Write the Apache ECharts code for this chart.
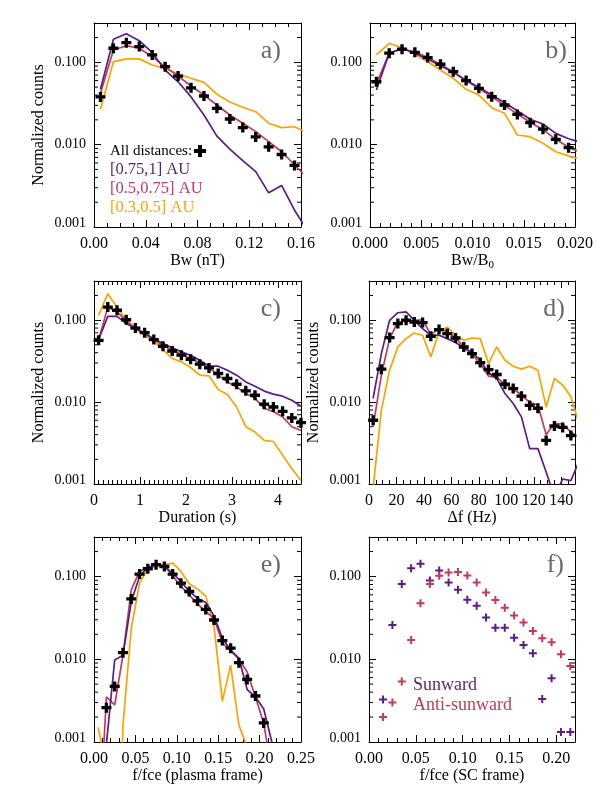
<!DOCTYPE html>
<html><head><meta charset="utf-8">
<script src="https://cdn.jsdelivr.net/npm/echarts@6/dist/echarts.min.js"></script>
<style>html,body{margin:0;padding:0;background:#fff}#c{width:606px;height:807px}</style>
</head><body><div id="c"></div>
<script>
// ---------- data ----------
// a) Bw (nT)
const aBins  = [0.005,0.015,0.025,0.035,0.045,0.055,0.065,0.075,0.085,0.095,0.105,0.115,0.125,0.135,0.145,0.155];
const aLineX = [0.005,0.015,0.025,0.035,0.045,0.055,0.065,0.075,0.085,0.095,0.105,0.115,0.125,0.135,0.145,0.155,0.165];
const aAll    = [0.038,0.148,0.173,0.155,0.123,0.0885,0.068,0.049,0.039,0.0276,0.0205,0.0161,0.0124,0.0094,0.0076,0.0056];
const aPurple = [0.047,0.19,0.222,0.183,0.131,0.0806,0.058,0.038,0.0229,0.0127,0.0088,0.0064,0.0047,0.0026,0.0032,0.0016,0.0009];
const aRed    = [0.042,0.141,0.159,0.148,0.117,0.088,0.068,0.0515,0.040,0.0303,0.0229,0.0182,0.0144,0.0109,0.0082,0.0057,0.0039];
const aOrange = [0.0269,0.1017,0.110,0.110,0.0927,0.0845,0.072,0.064,0.057,0.041,0.033,0.0284,0.0251,0.0182,0.0161,0.0165,0.0138];
// b) Bw/B0
const bBins  = [0.000625,0.001875,0.003125,0.004375,0.005625,0.006875,0.008125,0.009375,0.010625,0.011875,0.013125,0.014375,0.015625,0.016875,0.018125,0.019375];
const bLineX = [0.000625,0.001875,0.003125,0.004375,0.005625,0.006875,0.008125,0.009375,0.010625,0.011875,0.013125,0.014375,0.015625,0.016875,0.018125,0.019375,0.020625];
const bAll    = [0.058,0.129,0.144,0.132,0.114,0.0946,0.077,0.060,0.0483,0.0382,0.0303,0.0233,0.0185,0.0154,0.0116,0.0092];
const bPurple = [0.0461,0.129,0.148,0.129,0.110,0.091,0.0755,0.060,0.0497,0.040,0.0323,0.0258,0.0203,0.0178,0.0137,0.0118,0.0106];
const bRed    = [0.055,0.129,0.145,0.133,0.115,0.094,0.077,0.060,0.048,0.038,0.030,0.0235,0.0187,0.0152,0.0116,0.0093,0.0080];
const bOrange = [0.123,0.170,0.150,0.125,0.1017,0.0806,0.064,0.047,0.040,0.0281,0.024,0.0131,0.0125,0.0104,0.0082,0.0073,0.0066];
// c) Duration (s)
const cBins = [0.1,0.3,0.5,0.7,0.9,1.1,1.3,1.5,1.7,1.9,2.1,2.3,2.5,2.7,2.9,3.1,3.3,3.5,3.7,3.9,4.1,4.3,4.5];
const cAll    = [0.0567,0.144,0.132,0.101,0.080,0.0703,0.0578,0.048,0.042,0.0373,0.0333,0.029,0.0261,0.0223,0.0194,0.0165,0.0137,0.0121,0.0094,0.0087,0.0077,0.0064,0.0056];
const cPurple = [0.058,0.111,0.111,0.0906,0.0787,0.0684,0.0594,0.0517,0.0458,0.041,0.0373,0.0324,0.0274,0.0274,0.0245,0.0213,0.0176,0.0156,0.0136,0.0125,0.0118,0.0105,0.0089];
const cRed    = [0.057,0.144,0.126,0.098,0.079,0.070,0.058,0.049,0.043,0.038,0.034,0.030,0.0263,0.0213,0.0176,0.0153,0.0127,0.0111,0.0084,0.0076,0.0066,0.0050,0.0045];
const cOrange = [0.114,0.210,0.144,0.101,0.079,0.065,0.0552,0.0437,0.034,0.0309,0.0264,0.0213,0.0209,0.0142,0.0124,0.0087,0.0050,0.0043,0.0034,0.0033,0.00225,0.00155,0.0011];
// d) delta f (Hz)
const dBins  = [3,9,15,21,27,33,39,45,51,57,63,69,75,81,87,93,99,105,111,117,123,129,135,141,147];
const dLineX = [3,9,15,21,27,33,39,45,51,57,63,69,75,81,87,93,99,105,111,117,123,129,135,141,147,153];
const dAll    = [0.0060,0.0252,0.0612,0.0906,0.0995,0.0948,0.0932,0.0635,0.0766,0.0684,0.0605,0.047,0.039,0.0303,0.0249,0.0217,0.0165,0.0146,0.0118,0.0091,0.0084,0.0034,0.0051,0.0049,0.0039];
const dPurple = [0.0111,0.039,0.0995,0.123,0.126,0.0995,0.0787,0.0653,0.0653,0.0594,0.0532,0.0463,0.0402,0.0324,0.0227,0.0194,0.0127,0.0096,0.0066,0.0027,0.0027,0.0014,0.0007,0.00115,0.0011,0.0019];
const dRed    = [0.0050,0.0213,0.0594,0.0948,0.097,0.0995,0.101,0.0666,0.0787,0.072,0.0612,0.047,0.038,0.0295,0.0207,0.020,0.0165,0.0146,0.0121,0.0099,0.0092,0.0040,0.0055,0.0054,0.0043,0.0037];
const dOrange = [0.0009,0.0079,0.0245,0.047,0.0594,0.0697,0.0653,0.0356,0.0717,0.0824,0.0653,0.0567,0.0605,0.0594,0.0295,0.047,0.0324,0.0274,0.0252,0.0274,0.0245,0.0087,0.0194,0.0161,0.0116,0.0054];
// e) f/fce (plasma frame)
const eBins  = [0.015,0.025,0.035,0.045,0.055,0.065,0.075,0.085,0.095,0.105,0.115,0.125,0.135,0.145,0.155,0.165,0.175,0.185,0.195,0.205];
const eLineX = [0.005,0.015,0.025,0.035,0.045,0.055,0.065,0.075,0.085,0.095,0.105,0.115,0.125,0.135,0.145,0.155,0.165,0.175,0.185,0.195,0.205,0.215];
const eAll    = [0.0026,0.0047,0.012,0.0536,0.107,0.124,0.139,0.132,0.107,0.083,0.0658,0.0507,0.040,0.0298,0.0168,0.0136,0.0091,0.0057,0.0036,0.0017];
const ePurple = [0.000001,0.00095,0.0098,0.0112,0.0498,0.1,0.128,0.139,0.132,0.110,0.087,0.066,0.0547,0.0484,0.0334,0.0179,0.0129,0.0103,0.0043,0.0035,0.0025,0.00098];
const eRed    = [0.00005,0.0035,0.0028,0.0112,0.069,0.115,0.128,0.139,0.135,0.102,0.0757,0.060,0.0467,0.0377,0.0313,0.0158,0.0127,0.0100,0.0070,0.0035,0.00167,0.00043];
const eOrange = [0.0015,0.0005,0.000001,0.0016,0.0237,0.083,0.123,0.132,0.139,0.145,0.115,0.0816,0.0703,0.0583,0.0248,0.0031,0.0085,0.0016,0.00087,0.00001,0.00001,0.00001];
// f) f/fce (SC frame)
const fBins = [0.015,0.025,0.035,0.045,0.055,0.065,0.075,0.085,0.095,0.105,0.115,0.125,0.135,0.145,0.155,0.165,0.175,0.185,0.195,0.205,0.215];
const fSunward     = [0.00327,0.026,0.081,0.126,0.143,0.0895,0.118,0.0846,0.069,0.0522,0.0442,0.0319,0.0241,0.0241,0.0182,0.0149,0.0118,0.0033,0.0059,0.00132,0.00132];
const fAntiSunward = [0.0020,0.0030,0.0054,0.0171,0.0476,0.081,0.102,0.112,0.113,0.103,0.0846,0.064,0.052,0.042,0.0337,0.0277,0.022,0.0179,0.016,0.0115,0.0083];
// log-axis minor tick values
const yMinor = [0.002,0.003,0.004,0.005,0.006,0.007,0.008,0.009,0.02,0.03,0.04,0.05,0.06,0.07,0.08,0.09,0.2];
const legendA = ['All distances:','[0.75,1] AU','[0.5,0.75] AU','[0.3,0.5] AU'];
const legendF = ['Sunward','Anti-sunward'];

// ---------- styling ----------
const P='#5b1b8c', R='#c4395c', O='#ffa200', K='#000';
const FF='"Liberation Serif","Times New Roman",serif';
const PLUS='path://M4,0H8V4H12V8H8V12H4V8H0V4H4Z';
const PLUS_S='path://M3,0H5V3H8V5H5V8H3V5H0V3H3Z';

function fmtX(dec, itv){return v=>{const r=v/itv; if(Math.abs(r-Math.round(r))>1e-6) return ''; return v.toFixed(dec);};}
function fmtY(v){const l=Math.log10(v); if(Math.abs(l-Math.round(l))>1e-6) return ''; const s=v.toFixed(3); return s==='0.001'?'{lo|0.001}':s;}
function pts(x,y){return x.map((v,i)=>[v,y[i]]);}

const panels=[
 {g:[94,23,207,204], xmin:0,xmax:0.16,xint:0.04,minor:4,dec:2, xname:'Bw (nT)', yname:true, lab:'a)', labX:281,
  lines:[[aLineX,aOrange,O],[aLineX,aRed,R],[aLineX,aPurple,P]], marks:[[aBins,aAll,K,PLUS,10]]},
 {g:[370,23,205,204], xmin:0,xmax:0.02,xint:0.005,minor:5,dec:3, xname:'{n|Bw/B}{s|0}', yname:false, lab:'b)', labX:567,
  lines:[[bLineX,bOrange,O],[bLineX,bRed,R],[bLineX,bPurple,P]], marks:[[bBins,bAll,K,PLUS,10]]},
 {g:[94,281,207,203], xmin:0,xmax:4.5,xint:1,minor:10,dec:0, xname:'Duration (s)', yname:true, lab:'c)', labX:281,
  lines:[[cBins,cOrange,O],[cBins,cRed,R],[cBins,cPurple,P]], marks:[[cBins,cAll,K,PLUS,10]]},
 {g:[369,281,206,203], xmin:0,xmax:150,xint:20,minor:4,dec:0, xname:'\u0394f (Hz)', yname:true, lab:'d)', labX:565,
  lines:[[dLineX,dOrange,O],[dLineX,dRed,R],[dLineX,dPurple,P]], marks:[[dBins,dAll,K,PLUS,10]]},
 {g:[94,537,207,205], xmin:0,xmax:0.25,xint:0.05,minor:5,dec:2, xname:'f/fce (plasma frame)', yname:false, lab:'e)', labX:281,
  lines:[[eLineX,eOrange,O],[eLineX,eRed,R],[eLineX,ePurple,P]], marks:[[eBins,eAll,K,PLUS,10]]},
 {g:[369,537,206,205], xmin:0,xmax:0.22,xint:0.05,minor:5,dec:2, xname:'f/fce (SC frame)', yname:false, lab:'f)', labX:564,
  lines:[], marks:[[fBins,fSunward,P,PLUS_S,8],[fBins,fAntiSunward,R,PLUS_S,8]]}
];

const option={animation:false, backgroundColor:'#fff', grid:[], xAxis:[], yAxis:[], series:[], graphic:[]};
panels.forEach((p,i)=>{
  option.grid.push({left:p.g[0],top:p.g[1],width:p.g[2],height:p.g[3],containLabel:false,outerBoundsMode:'none'});
  const common={type:'value',gridIndex:i,min:p.xmin,max:p.xmax,interval:p.xint,
    axisLine:{onZero:false,lineStyle:{color:K,width:1}},
    axisTick:{inside:true,length:7,lineStyle:{color:K,width:1}},
    minorTick:{show:true,splitNumber:p.minor,length:4,lineStyle:{color:K,width:1}},
    splitLine:{show:false}, minorSplitLine:{show:false}};
  option.xAxis.push(Object.assign({},common,{position:'bottom',
    axisLabel:{formatter:fmtX(p.dec,p.xint),fontFamily:FF,fontSize:16,color:K,margin:9,hideOverlap:false,showMaxLabel:true},
    name:p.xname,nameLocation:'middle',nameGap:24,
    nameTextStyle:{fontFamily:FF,fontSize:16,color:K,
      rich:{n:{fontFamily:FF,fontSize:16,color:K},s:{fontFamily:FF,fontSize:11,color:K,padding:[9,0,0,0]}}}}));
  option.xAxis.push(Object.assign({},common,{position:'top',axisLabel:{show:false}}));
  const ycommon={type:'log',logBase:10,gridIndex:i,min:0.001,max:0.3,
    axisLine:{onZero:false,lineStyle:{color:K,width:1}},
    axisTick:{inside:true,length:7,lineStyle:{color:K,width:1}},
    splitLine:{show:false}};
  option.yAxis.push(Object.assign({},ycommon,{position:'left',
    axisLabel:{formatter:fmtY,fontFamily:FF,fontSize:14,color:K,margin:8,hideOverlap:false,
      rich:{lo:{fontFamily:FF,fontSize:14,color:K,padding:[0,0,8,0]}}},
    name:p.yname?'Normalized counts':'',nameLocation:'middle',nameGap:47,
    nameTextStyle:{fontFamily:FF,fontSize:16,color:K}}));
  option.yAxis.push(Object.assign({},ycommon,{position:'right',axisLabel:{show:false}}));
  option.series.push({type:'custom',xAxisIndex:2*i,yAxisIndex:2*i,silent:true,clip:false,z:1,
    data:yMinor.map(v=>[p.xmin,v]),
    renderItem:(params,api)=>{
      const y=api.coord([api.value(0),api.value(1)])[1];
      const cs=params.coordSys;
      return {type:'group',children:[
        {type:'line',shape:{x1:cs.x,y1:y,x2:cs.x+4,y2:y},style:{stroke:K,lineWidth:1}},
        {type:'line',shape:{x1:cs.x+cs.width-4,y1:y,x2:cs.x+cs.width,y2:y},style:{stroke:K,lineWidth:1}}]};
    }});
  p.lines.forEach(l=>option.series.push({type:'line',xAxisIndex:2*i,yAxisIndex:2*i,data:pts(l[0],l[1]),
    showSymbol:false,symbol:'none',lineStyle:{color:l[2],width:1.7},clip:true,z:2}));
  p.marks.forEach(m=>option.series.push({type:'scatter',xAxisIndex:2*i,yAxisIndex:2*i,data:pts(m[0],m[1]),
    symbol:m[3],symbolSize:m[4],itemStyle:{color:m[2],opacity:1},clip:true,z:3}));
  option.graphic.push({type:'text',x:p.labX,y:p.g[1]+28,z:10,
    style:{text:p.lab,fontFamily:FF,fontSize:26,fill:'#6a6a6a',align:'right',verticalAlign:'middle',textAlign:'right',textVerticalAlign:'middle'}});
});
// legend a
const lc=[K,P,R,O], ly=[151,170,189,208], ls=[15,16.5,16.5,16.5];
legendA.forEach((t,k)=>option.graphic.push({type:'text',x:110,y:ly[k],z:10,
  style:{text:t,fontFamily:FF,fontSize:ls[k],fill:lc[k],align:'left',verticalAlign:'middle',textAlign:'left',textVerticalAlign:'middle'}}));
option.graphic.push({type:'group',x:200,y:151,z:10,children:[
  {type:'rect',shape:{x:-6,y:-2,width:12,height:4},style:{fill:K}},
  {type:'rect',shape:{x:-2,y:-6,width:4,height:12},style:{fill:K}}]});
// legend f
const fc=[P,R], fy=[685,705];
legendF.forEach((t,k)=>option.graphic.push({type:'text',x:413,y:fy[k],z:10,
  style:{text:t,fontFamily:FF,fontSize:18,fill:fc[k],align:'left',verticalAlign:'middle',textAlign:'left',textVerticalAlign:'middle'}}));

const chart=echarts.init(document.getElementById('c'),null,{renderer:'canvas'});
chart.setOption(option);
</script></body></html>
